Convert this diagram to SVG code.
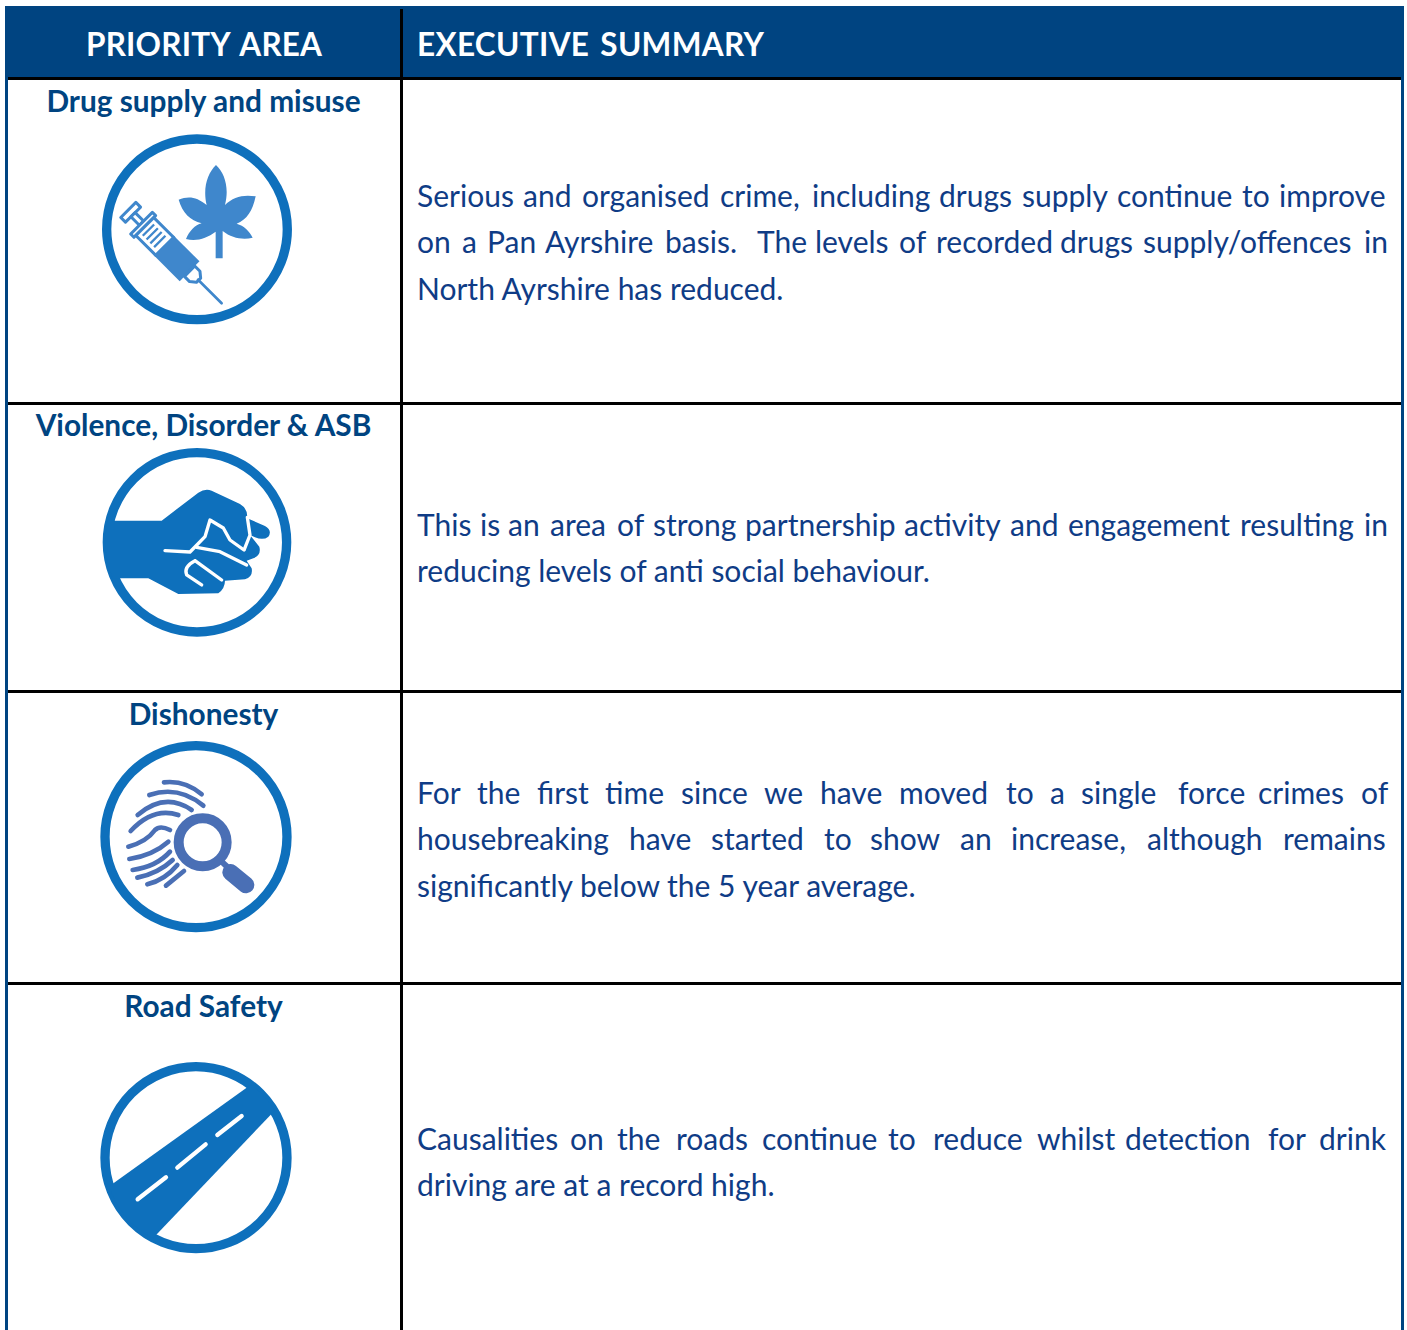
<svg xmlns="http://www.w3.org/2000/svg" width="1407" height="1330" viewBox="0 0 1407 1330">
<style>
.hd{font:700 31.5px Lato,"Open Sans",sans-serif;fill:#fff;word-spacing:3px}
.ti{font:700 29.8px Lato,"Open Sans",sans-serif;fill:#004481;text-anchor:middle}
.bd{font:400 30px Lato,"Open Sans",sans-serif;fill:#0f3c86}
.rule{fill:#000}
.edge{fill:#004481}
.ring{fill:#fff;stroke:#0e70bc;stroke-width:28}
.blue{fill:#0e70bc}
.syr{fill:#3f87cc}
.syo{fill:#fff;stroke:#3f87cc;stroke-width:9;stroke-linejoin:round}
.wl{fill:none;stroke:#fff;stroke-width:10;stroke-linecap:round;stroke-linejoin:round}
.fp{fill:none;stroke:#4a6fb5;stroke-width:14;stroke-linecap:round}
</style>
<defs>
<clipPath id="fistclip"><circle cx="321" cy="307" r="275"/></clipPath>
<clipPath id="roadclip"><circle cx="318" cy="308" r="275"/></clipPath>
</defs>
<rect width="1407" height="1330" fill="#fff"/>
<g id="table">
<rect class="edge" x="5" y="6" width="1399" height="71"/>
<rect class="edge" x="5" y="77" width="3" height="1253"/>
<rect class="edge" x="1401" y="77" width="3" height="1253"/>
<rect class="rule" x="8" y="77" width="1393" height="3"/>
<rect class="rule" x="8" y="402" width="1393" height="3"/>
<rect class="rule" x="8" y="690" width="1393" height="3"/>
<rect class="rule" x="8" y="982" width="1393" height="3"/>
<rect class="rule" x="400" y="9" width="3" height="1321"/>
</g>
<g id="header">
<text class="hd" x="86" y="56" textLength="236">PRIORITY AREA</text>
<text class="hd" x="417" y="56" textLength="347">EXECUTIVE SUMMARY</text>
</g>
<g id="row-drug">
<text class="ti" x="203.500" y="112">Drug supply and misuse</text>
<g transform="translate(90 125) scale(.3333)">
<circle class="ring" cx="321" cy="313" r="271"/>
<path class="syr" d="M378 120C352 145 338 190 350 240C320 215 295 212 266 224C278 265 300 285 335 295C315 300 298 318 288 342C320 350 350 340 377 320L377 400L398 400L398 318C425 340 460 345 488 338C478 318 462 302 440 296C470 285 488 258 497 214C460 208 430 215 405 240C418 190 405 145 378 120Z"/>
<g transform="translate(122 262) rotate(45)">
<rect class="syo" x="-10" y="-32" width="20" height="64"/>
<rect class="syo" x="10" y="-9" width="36" height="18"/>
<rect class="syo" x="46" y="-46" width="14" height="92"/>
<rect class="syo" x="60" y="-38" width="85" height="76"/>
<path class="syr" d="M72 -24h7v48h-7zM88 -24h7v48h-7zM104 -24h7v48h-7zM120 -24h7v48h-7z"/>
<rect class="syr" x="140" y="-42" width="110" height="84"/>
<path class="syo" d="M250 -22H272L288 -9V9L272 22H250Z"/>
<path d="M286 0H386" fill="none" stroke="#3f87cc" stroke-width="8" stroke-linecap="round"/>
</g>
</g>
</g>
<g id="row-violence">
<text class="ti" x="203.500" y="436">Violence, Disorder &amp; ASB</text>
<g transform="translate(90 440) scale(.3333)">
<circle class="ring" cx="321" cy="307" r="269"/>
<path class="blue" clip-path="url(#fistclip)" d="M30 242L215 242L325 158Q345 145 365 152L450 192Q472 205 472 230L472 235L525 258Q548 272 535 290Q520 302 495 292L480 285L508 320Q515 345 490 355L470 362L485 385Q490 410 465 418L405 422Q405 445 385 460L265 462L175 415L30 415Z"/>
<path class="wl" d="M225 332L300 336L345 290L360 240L400 264L420 300L462 330"/>
<path class="wl" d="M472 232L480 285L463 328M320 322L390 335L470 375M315 362Q280 380 290 405L335 435M315 362L395 420"/>
</g>
</g>
<g id="row-dishonesty">
<text class="ti" x="203.500" y="725">Dishonesty</text>
<g transform="translate(90 735) scale(.3333)">
<circle class="ring" cx="318" cy="305" r="273"/>
<path class="fp" d="M222 142Q285 135 335 178M178 180Q265 150 340 212M143 240Q225 170 305 225M122 288Q190 215 265 240M115 335Q170 320 195 285Q210 270 240 285M118 372Q190 360 235 320M128 405Q200 395 240 350M142 428Q205 415 248 375M172 448Q225 435 262 390M228 452L282 408"/>
<circle cx="338" cy="322" r="72" fill="none" stroke="#fff" stroke-width="44"/>
<circle cx="338" cy="322" r="72" fill="none" stroke="#4a6fb5" stroke-width="30"/>
<path d="M395 380L425 408" fill="none" stroke="#4a6fb5" stroke-width="18"/>
<path d="M422 412L468 450" fill="none" stroke="#4a6fb5" stroke-width="50" stroke-linecap="round"/>
</g>
</g>
<g id="row-road">
<text class="ti" x="203.500" y="1017">Road Safety</text>
<g transform="translate(90 1055) scale(.3333)">
<circle class="ring" cx="318" cy="308" r="273"/>
<path class="blue" clip-path="url(#roadclip)" d="M0 435L560 34L640 77L100 643Z"/>
<path d="M143 433L228 367M262 338L347 268M382 240L455 183" fill="none" stroke="#fff" stroke-width="13" stroke-linecap="round"/>
</g>
</g>
<g id="summaries" transform="translate(0 1)">
<text class="bd" y="206"><tspan x="417">Serious</tspan><tspan x="523">and</tspan><tspan x="582">organised</tspan><tspan x="720">crime,</tspan><tspan x="812">including</tspan><tspan x="939">drugs</tspan><tspan x="1022">supply</tspan><tspan x="1117">continue</tspan><tspan x="1242">to</tspan><tspan x="1279">improve</tspan></text>
<text class="bd" y="252"><tspan x="417">on</tspan><tspan x="462">a</tspan><tspan x="487">Pan</tspan><tspan x="545">Ayrshire</tspan><tspan x="665">basis.</tspan><tspan x="757">The</tspan><tspan x="815">levels</tspan><tspan x="899">of</tspan><tspan x="936">recorded</tspan><tspan x="1060">drugs</tspan><tspan x="1143">supply/offences</tspan><tspan x="1364">in</tspan></text>
<text class="bd" x="417" y="299">North Ayrshire has reduced.</text>
<text class="bd" y="535"><tspan x="417">This</tspan><tspan x="480">is</tspan><tspan x="508">an</tspan><tspan x="550">area</tspan><tspan x="617">of</tspan><tspan x="653">strong</tspan><tspan x="745">partnership</tspan><tspan x="904">activity</tspan><tspan x="1010">and</tspan><tspan x="1068">engagement</tspan><tspan x="1240">resulting</tspan><tspan x="1364">in</tspan></text>
<text class="bd" x="417" y="581">reducing levels of anti social behaviour.</text>
<text class="bd" y="803"><tspan x="417">For</tspan><tspan x="477">the</tspan><tspan x="537">first</tspan><tspan x="605">time</tspan><tspan x="681">since</tspan><tspan x="764">we</tspan><tspan x="820">have</tspan><tspan x="899">moved</tspan><tspan x="1006">to</tspan><tspan x="1050">a</tspan><tspan x="1081">single</tspan><tspan x="1178">force</tspan><tspan x="1258">crimes</tspan><tspan x="1361">of</tspan></text>
<text class="bd" y="849"><tspan x="417">housebreaking</tspan><tspan x="629">have</tspan><tspan x="711">started</tspan><tspan x="824">to</tspan><tspan x="870">show</tspan><tspan x="960">an</tspan><tspan x="1011">increase,</tspan><tspan x="1147">although</tspan><tspan x="1283">remains</tspan></text>
<text class="bd" x="417" y="896">significantly below the 5 year average.</text>
<text class="bd" y="1149"><tspan x="417">Causalities</tspan><tspan x="570">on</tspan><tspan x="617">the</tspan><tspan x="676">roads</tspan><tspan x="762">continue</tspan><tspan x="888">to</tspan><tspan x="933">reduce</tspan><tspan x="1037">whilst</tspan><tspan x="1125">detection</tspan><tspan x="1268">for</tspan><tspan x="1319">drink</tspan></text>
<text class="bd" x="417" y="1195">driving are at a record high.</text>
</g>
</svg>
